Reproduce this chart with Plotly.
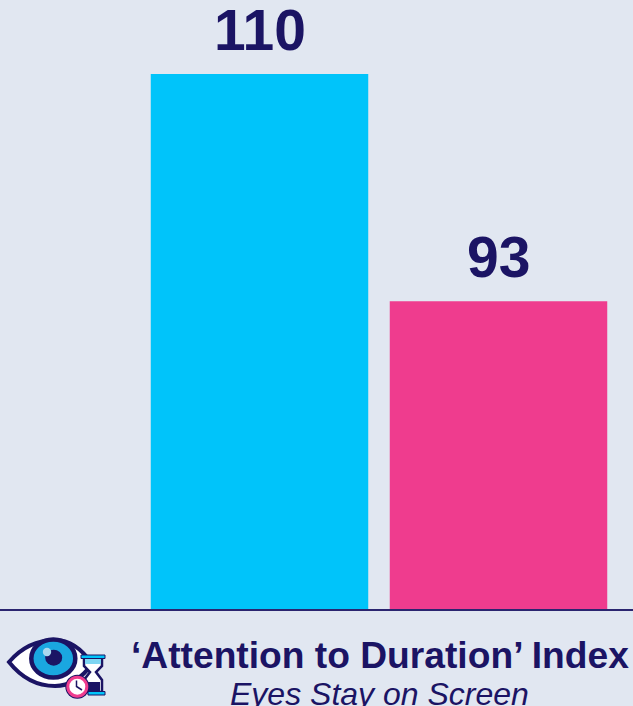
import plotly.graph_objects as go

categories = ["Group A", "Group B"]
values = [110, 93]
labels = ["110", "93"]
bar_colors = ["#00C4FA", "#EF3C8E"]
title_text = "‘Attention to Duration’ Index"
subtitle_text = "<i>Eyes Stay on Screen</i>"

NAVY = "#1B1464"
BG = "#E1E7F1"
CYAN = "#00C4FA"
BLUE = "#1AA7E0"
PINK = "#EF3C8E"
W, H, PLOT_H = 633, 706, 609


def px(x):
    return x / W


def py(y):
    return 1 - y / PLOT_H


def ellipse(cx, cy, rx, ry, fill, line=None, lw=0):
    return dict(type="circle", xref="paper", yref="paper",
                x0=px(cx - rx), x1=px(cx + rx), y0=py(cy + ry), y1=py(cy - ry),
                fillcolor=fill, line=dict(color=line or fill, width=lw), layer="above")


def path(points, fill, line=None, lw=0, suffix=" Z"):
    d = "M " + " L ".join(f"{px(a):.5f},{py(b):.5f}" for a, b in points) + suffix
    return dict(type="path", xref="paper", yref="paper", path=d,
                fillcolor=fill, line=dict(color=line or fill, width=lw), layer="above")


def curve(d_points, fill, line=None, lw=0):
    parts = []
    for cmd, pts in d_points:
        parts.append(cmd + " " + " ".join(f"{px(a):.5f},{py(b):.5f}" for a, b in pts))
    return dict(type="path", xref="paper", yref="paper", path=" ".join(parts) + " Z",
                fillcolor=fill, line=dict(color=line or fill, width=lw), layer="above")


def rect(x0, y0, x1, y1, fill, line=None, lw=0):
    return dict(type="rect", xref="paper", yref="paper", x0=px(x0), x1=px(x1),
                y0=py(y1), y1=py(y0), fillcolor=fill,
                line=dict(color=line or fill, width=lw), layer="above")


shapes = [
    # eye outline
    curve([("M", [(9, 662)]),
           ("Q", [(28, 640), (55, 640)]),
           ("Q", [(76, 640), (92, 664)]),
           ("Q", [(76, 686), (55, 686)]),
           ("Q", [(28, 686), (9, 662)])], "white", NAVY, 4),
    ellipse(53.3, 658.5, 22, 19, BLUE, NAVY, 4.5),
    ellipse(53.7, 657.7, 8.5, 8, NAVY),
    ellipse(47, 652, 4.2, 4.2, "#A9D8EE"),
    # hourglass
    path([(84, 659), (102, 659), (102, 666), (96, 672), (102, 680), (102, 692), (84, 692),
          (84, 680), (90, 672), (84, 666)], "white", NAVY, 2.5),
    rect(85, 659, 101, 664, "#7FD6F2"),
    path([(86, 682), (100, 682), (100, 691), (86, 691)], NAVY),
    rect(81, 655, 105, 658.5, CYAN, NAVY, 1),
    rect(88, 691.5, 105, 695, CYAN, NAVY, 1),
    # clock
    ellipse(77.3, 686.7, 12, 12, NAVY),
    ellipse(77.3, 686.7, 9.5, 9.5, "white", PINK, 3),
    path([(76.5, 680.5), (76.5, 686.5), (82, 690)], "rgba(0,0,0,0)", NAVY, 1.5, suffix=""),
]

fig = go.Figure(go.Bar(
    x=categories, y=values, marker=dict(color=bar_colors, line=dict(width=0)),
    cliponaxis=False, width=0.91, hoverinfo="skip",
))

value_labels = [
    dict(text=f"<b>{t}</b>", x=c, y=v, xref="x", yref="y", xanchor="center", yanchor="bottom",
         yshift=10, showarrow=False,
         font=dict(family="Liberation Sans", size=57, color=NAVY))
    for c, v, t in zip(categories, values, labels)
]

fig.update_layout(
    width=W, height=H, autosize=False, showlegend=False,
    margin=dict(l=0, r=0, t=0, b=H - PLOT_H, pad=0),
    paper_bgcolor=BG, plot_bgcolor=BG,
    xaxis=dict(type="category", range=[-1.0858, 1.5628], showticklabels=False, ticks="",
               showgrid=False, zeroline=False, showline=True, linecolor="#2B2570", linewidth=2),
    yaxis=dict(range=[70, 115.53], visible=False, showgrid=False, zeroline=False),
    shapes=shapes,
    annotations=value_labels + [
        dict(text=f"<b>{title_text}</b>", xref="paper", yref="paper", x=px(380), y=py(655),
             xanchor="center", yanchor="middle", showarrow=False,
             font=dict(family="Liberation Sans", size=37.2, color=NAVY)),
        dict(text=subtitle_text, xref="paper", yref="paper", x=px(379.5), y=py(693.5),
             xanchor="center", yanchor="middle", showarrow=False,
             font=dict(family="Liberation Sans", size=32, color=NAVY)),
    ],
)

fig.write_html("out.html", config=dict(displayModeBar=False),
               post_script="document.body.style.margin='0';document.body.style.background='#E1E7F1';")
